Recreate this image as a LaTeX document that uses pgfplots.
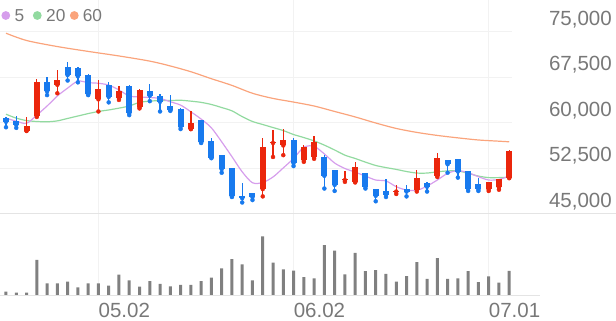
\documentclass[border=0pt]{standalone}
\usepackage{pgfplots}
\pgfplotsset{compat=1.18}
\usepackage{pgfplotstable}
\usepackage{fontspec}
\setmainfont{Liberation Sans}
\definecolor{cred}{RGB}{235,38,12}
\definecolor{cblue}{RGB}{24,122,238}
\definecolor{maA}{RGB}{214,158,236}
\definecolor{maB}{RGB}{146,218,160}
\definecolor{maC}{RGB}{250,164,124}
\definecolor{volgray}{RGB}{128,128,128}
\definecolor{gridc}{RGB}{242,242,242}
\definecolor{sepc}{RGB}{228,228,228}
\definecolor{labc}{RGB}{120,120,120}

% x open high low close
\pgfplotstableread{
x o h l c
2 58700 61000 58700 59500
3 61200 67200 61000 66800
5 66300 68700 64900 67100
9 63900 67100 61900 65600
11 64100 66100 63800 65300
13 62600 65600 62400 65400
18 59000 61900 59000 60000
25 49100 57500 47900 56100
26 56700 58800 54400 56900
27 56300 59000 54700 57200
29 53900 56400 53600 56000
30 54400 57900 54100 56800
33 50600 52100 50300 50700
34 50300 53600 50200 52800
38 48700 49800 48300 48800
40 49000 52300 48700 51000
42 51300 55100 51100 54300
47 49100 50300 48800 50200
48 49400 50700 49000 50700
49 51000 55500 50900 55400
}\redtab

\pgfplotstableread{
x o h l c
0 60800 61000 59300 60200
1 60400 61200 59200 59700
4 66800 67500 64600 65200
6 69300 70000 67000 67900
7 69100 69300 66700 67700
8 67900 68100 64600 64700
10 66300 66800 63400 64300
12 66100 66300 61300 61600
14 65200 66400 63600 64500
15 64500 64700 61900 63500
16 62800 64600 62000 62100
17 62300 62400 59000 59400
19 60500 60500 56700 56800
20 57000 57500 54200 54300
21 54700 54700 51800 52400
22 52500 52500 47800 47900
23 47900 50100 46900 47600
24 48400 48400 47300 47800
28 57200 57500 52900 53400
31 54400 54700 49200 51300
32 52300 52300 48800 49800
35 51700 51800 49200 49500
36 49200 49200 47100 48000
37 48800 50700 47800 48200
39 49200 49800 47900 48700
41 50100 50300 48700 49500
43 53900 53900 51800 53200
44 54000 54000 51000 52000
45 52100 52100 48800 49200
46 49900 51000 48800 49100
}\bluetab

\pgfplotstableread{
x y
0 60800
1 60300
2 59950
3 61300
4 62800
5 64450
6 65750
7 66900
8 66650
9 66550
10 66250
11 65450
12 64450
13 64300
14 64200
15 64050
16 63500
17 62950
18 61850
19 60650
20 59200
21 56900
22 54450
23 51950
24 50150
25 50200
26 51100
27 52600
28 54150
29 56000
30 56150
31 54900
32 53400
33 52500
34 51900
35 51250
36 50600
37 50450
38 49500
39 48950
40 48900
41 49600
42 50600
43 51700
44 52150
45 51800
46 51150
47 50600
48 50700
49 51250
}\maFive

\pgfplotstableread{
x y
0 61450
1 60800
2 60400
3 60250
4 60200
5 60350
6 60750
7 61150
8 61550
9 61900
10 62150
11 62450
12 62800
13 63400
14 63600
15 63700
16 63700
17 63750
18 63600
19 63400
20 63050
21 62550
22 62000
23 61050
24 60250
25 59750
26 59250
27 58750
28 58100
29 57600
30 57050
31 56350
32 55550
33 54700
34 54150
35 53550
36 53000
37 52650
38 52350
39 52000
40 51750
41 51750
42 51950
43 52100
44 52100
45 51700
46 51250
47 51000
48 51000
49 51000
}\maTwenty

\pgfplotstableread{
x y
0 74800
2 73600
5 72600
8 71800
11 71050
14 70200
16 69400
18 68450
20 67300
22 66200
24 64900
26 64050
28 63450
30 62800
32 61900
34 61000
36 60000
38 59100
40 58450
42 57950
44 57550
46 57200
48 57000
49 56900
}\maSixty

\pgfplotstableread{
x v
0 13
1 10
2 10
3 105
4 37
5 37
6 42
7 25
8 37
9 37
10 30
11 62
12 45
13 27
14 43
15 35
16 28
17 32
18 32
19 43
20 53
21 80
22 107
23 92
24 45
25 173
26 97
27 77
28 74
29 55
30 51
31 148
32 132
33 63
34 125
35 72
36 75
37 64
38 42
39 58
40 98
41 50
42 110
43 50
44 51
45 72
46 40
47 57
48 39
49 73
}\voltab

\begin{document}
\begin{tikzpicture}
\useasboundingbox (0,0) rectangle (616pt,321pt);
\begin{axis}[
  at={(0pt,107pt)}, anchor=south west, scale only axis,
  width=512pt, height=214pt,
  xmin=-0.584, xmax=49.27, ymin=45000, ymax=80275,
  axis line style={draw=none}, major tick length=0pt,
  xtick={9,28,47}, xticklabels={},
  ytick={45000,52500,60000,67500,75000},
  yticklabels={{45,000},{52,500},{60,000},{67,500},{75,000}},
  scaled y ticks=false, scaled x ticks=false,
  yticklabel pos=right,
  yticklabel style={anchor=base east, inner sep=0pt, xshift=100pt, yshift=6.6pt,
    font=\fontsize{20.5}{24}\selectfont, text=labc},
  grid=major, major grid style={gridc, line width=1pt},
  clip=false,
]
\addplot[maC, line width=1.2pt, smooth] table[x=x,y=y] {\maSixty};
\addplot[maB, line width=1.2pt, smooth] table[x=x,y=y] {\maTwenty};
\addplot[maA, line width=1.2pt, smooth] table[x=x,y=y] {\maFive};
% red candles
\addplot[only marks, mark=none, cred, error bars/.cd, y dir=plus, y explicit,
  error mark=none, error bar style={cred, line width=1.3pt}]
  table[x=x, y=l, y error expr={\thisrow{h}-\thisrow{l}}] {\redtab};
\addplot[only marks, mark=none, cred, error bars/.cd, y dir=plus, y explicit,
  error mark=none, error bar style={cred, line width=6pt}]
  table[x=x, y=o, y error expr={\thisrow{c}-\thisrow{o}}] {\redtab};
% blue candles
\addplot[only marks, mark=none, cblue, error bars/.cd, y dir=plus, y explicit,
  error mark=none, error bar style={cblue, line width=1.3pt}]
  table[x=x, y=l, y error expr={\thisrow{h}-\thisrow{l}}] {\bluetab};
\addplot[only marks, mark=none, cblue, error bars/.cd, y dir=plus, y explicit,
  error mark=none, error bar style={cblue, line width=6pt}]
  table[x=x, y=c, y error expr={\thisrow{o}-\thisrow{c}}] {\bluetab};
\end{axis}

\begin{axis}[
  at={(0pt,25pt)}, anchor=south west, scale only axis,
  width=512pt, height=82pt,
  xmin=-0.584, xmax=49.27, ymin=0, ymax=238,
  axis line style={draw=none}, major tick length=0pt,
  xtick={9,28,47}, xticklabels={05.02,06.02,07.01},
  ytick=\empty,
  xmajorgrids, major grid style={gridc, line width=1pt},
  xticklabel style={anchor=base west, inner sep=0pt, yshift=-22pt,
    font=\fontsize{20.5}{24}\selectfont, text=labc},
  clip=false,
]
\addplot[ybar, bar width=3pt, fill=volgray, draw=none] table[x=x,y=v] {\voltab};
\end{axis}

\draw[sepc, line width=1pt] (0pt,107pt) -- (616pt,107pt);
\draw[sepc, line width=1pt] (0pt,25pt) -- (540pt,25pt);

% legend
\fill[maA] (5.8pt,305.5pt) circle (4.4pt);
\fill[maB] (37.3pt,305.5pt) circle (4.4pt);
\fill[maC] (74.3pt,305.5pt) circle (4.4pt);
\node[anchor=base west, inner sep=0pt, text=labc, font=\fontsize{17.3}{20}\selectfont] at (14.3pt,299.3pt) {5};
\node[anchor=base west, inner sep=0pt, text=labc, font=\fontsize{17.3}{20}\selectfont] at (46pt,299.3pt) {20};
\node[anchor=base west, inner sep=0pt, text=labc, font=\fontsize{17.3}{20}\selectfont] at (82.6pt,299.3pt) {60};
\end{tikzpicture}
\end{document}
